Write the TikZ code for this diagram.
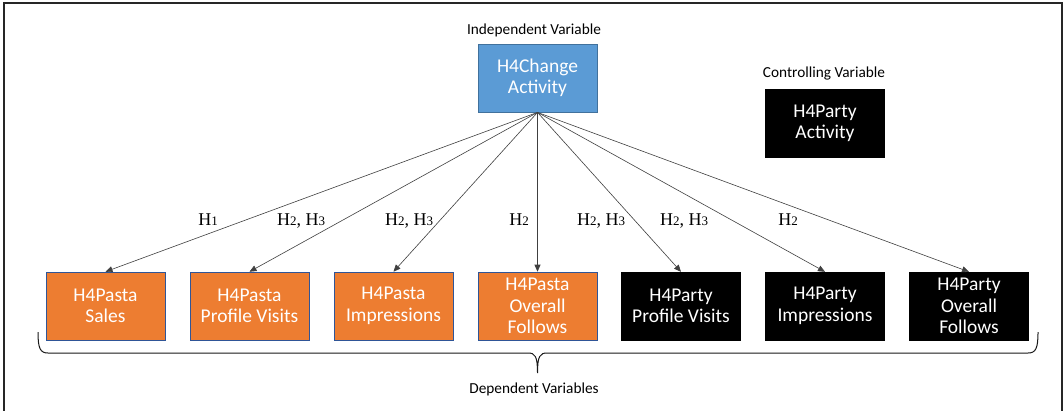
\documentclass[tikz,border=0pt]{standalone}
\usepackage{fontspec}
\setmainfont{Carlito}
\newfontfamily\timesf{Liberation Serif}
\usetikzlibrary{arrows.meta}
\definecolor{ivblue}{HTML}{5B9BD5}
\definecolor{ivborder}{HTML}{41719C}
\definecolor{dvorange}{HTML}{ED7D31}
\definecolor{dvborder}{HTML}{2F5597}
\definecolor{linegrey}{HTML}{404040}
\newcommand{\hd}[1]{{\fontsize{13}{15}\selectfont #1}}
\tikzset{
  varbox/.style={minimum width=119pt, minimum height=68pt, inner sep=0pt, align=center,
    text=white, font=\fontsize{19.5}{21.5}\selectfont},
  bluebox/.style={varbox, fill=ivblue, draw=ivborder, line width=0.8pt},
  orangebox/.style={varbox, fill=dvorange, draw=dvborder, line width=0.6pt},
  blackbox/.style={varbox, fill=black, draw=black},
  caption/.style={font=\fontsize{15.3}{17}\selectfont, text=black, inner sep=0pt},
  hyp/.style={font=\timesf\fontsize{18}{21}\selectfont, anchor=base, inner sep=0pt},
  link/.style={draw=linegrey, line width=0.6pt, -{Triangle[length=7pt,width=6pt]}}
}
\begin{document}
\begin{tikzpicture}[x=1pt,y=-1pt]
\useasboundingbox (0,0) rectangle (1064,410);
\fill[white] (0,0) rectangle (1064,410);
% frame
\draw[line width=2pt, black!85] (4,412) -- (4,2.5) -- (1062,2.5) -- (1062,412);

\node[bluebox] (iv) at (537.5,78) {H4Change\\Activity};
\node[caption] (ivlab) at (534,30) {Independent Variable};

\node[blackbox] (cv) at (825,123.5) {H4Party\\Activity};
\node[caption] (cvlab) at (824,73) {Controlling Variable};

\node[orangebox] (d1) at (105.5,306) {H4Pasta\\Sales};
\node[orangebox] (d2) at (249.5,306) {H4Pasta\\Profile Visits};
\node[orangebox] (d3) at (393.5,306) {H4Pasta\\Impressions};
\node[orangebox] (d4) at (537.5,306) {H4Pasta\\Overall\\Follows};
\node[blackbox] (d5) at (681,306) {H4Party\\Profile Visits};
\node[blackbox] (d6) at (825,306) {H4Party\\Impressions};
\node[blackbox] (d7) at (969,306) {H4Party\\Overall\\Follows};

\foreach \i in {1,...,7} \draw[link] (iv.south) -- (d\i.north);

\node[hyp] (h1) at (208,225) {H\hd{1}};
\node[hyp] (h2) at (301,225) {H\hd{2}, H\hd{3}};
\node[hyp] (h3) at (409,225) {H\hd{2}, H\hd{3}};
\node[hyp] (h4) at (519,225) {H\hd{2}};
\node[hyp] (h5) at (601,225) {H\hd{2}, H\hd{3}};
\node[hyp] (h6) at (684,225) {H\hd{2}, H\hd{3}};
\node[hyp] (h7) at (788,225) {H\hd{2}};

% brace
\coordinate (bl) at (38,332);
\coordinate (br) at (1038,332);
\coordinate (bm) at (537.5,373);
\draw[line width=1pt, black!90]
  (bl) .. controls (38,348) and (40,353) .. (48,353) -- (528,353)
  .. controls (535,353) and (537.5,356) .. (bm)
  .. controls (537.5,356) and (540,353) .. (547,353) -- (1028,353)
  .. controls (1036,353) and (1038,348) .. (br);
\node[caption] (dvlab) at (534,389) {Dependent Variables};
\end{tikzpicture}
\end{document}
